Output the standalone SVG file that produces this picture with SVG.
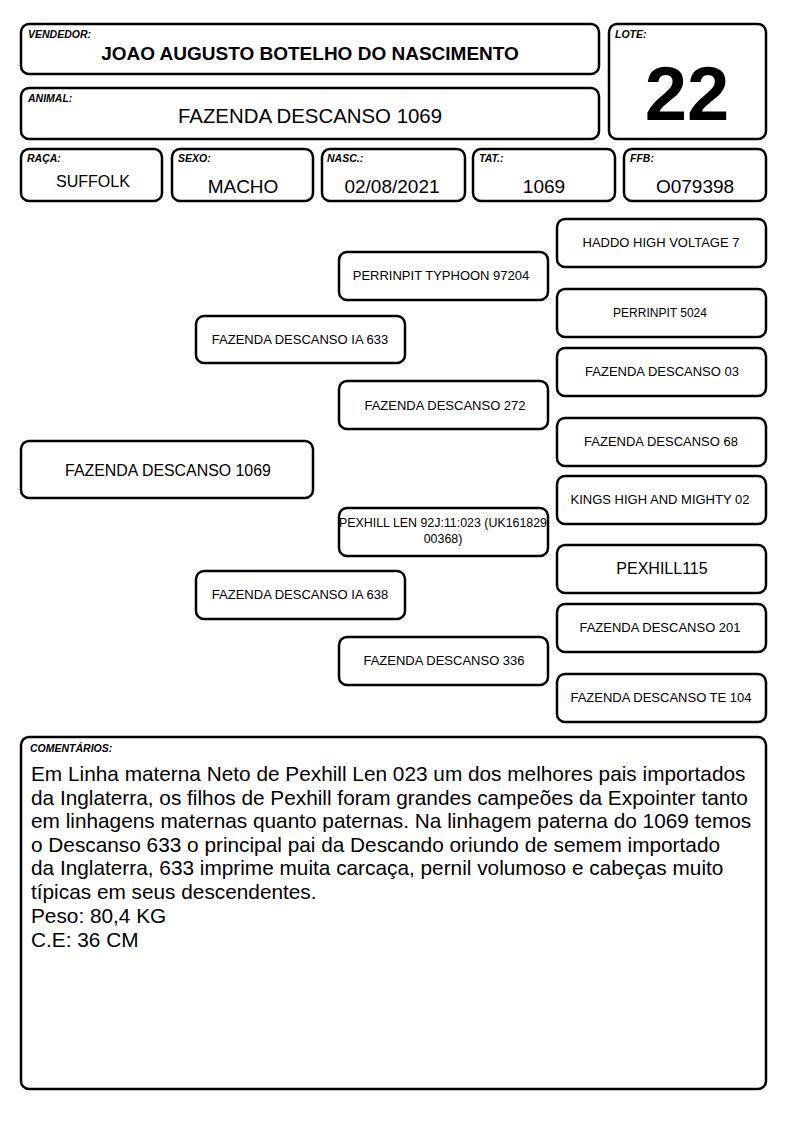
<svg xmlns="http://www.w3.org/2000/svg" width="794" height="1123" viewBox="0 0 794 1123">
<style>
.b{fill:#fff;stroke:#000;stroke-width:2.5}
.lbl{font-family:"Liberation Sans",Arial,sans-serif;font-size:10.5px;font-weight:bold;font-style:italic}
.v{font-family:"Liberation Sans",Arial,sans-serif;font-size:19px;text-anchor:middle}
.p{font-family:"Liberation Sans",Arial,sans-serif;font-size:13px;text-anchor:middle}
.c{font-family:"Liberation Sans",Arial,sans-serif;font-size:20.8px}
</style>
<rect width="794" height="1123" fill="#fff"/>
<g id="vendedor"><rect class="b" x="21" y="24" width="578" height="50" rx="8"/><text class="lbl" x="28" y="38">VENDEDOR:</text><text class="v" x="310" y="60" style="font-weight:bold">JOAO AUGUSTO BOTELHO DO NASCIMENTO</text></g>
<g id="lote"><rect class="b" x="609" y="24" width="157" height="115" rx="8"/><text class="lbl" x="615" y="38">LOTE:</text><text x="687" y="120" font-family="Liberation Sans,Arial,sans-serif" font-size="76" font-weight="bold" text-anchor="middle">22</text></g>
<g id="animal"><rect class="b" x="21" y="88" width="578" height="51" rx="8"/><text class="lbl" x="28" y="102">ANIMAL:</text><text class="v" x="310" y="123" style="font-size:20.4px">FAZENDA DESCANSO 1069</text></g>
<g id="raca"><rect class="b" x="21" y="149" width="141" height="52" rx="8"/><text class="lbl" x="27" y="162">RAÇA:</text><text class="v" x="93" y="187" style="font-size:16px">SUFFOLK</text></g>
<g id="sexo"><rect class="b" x="172" y="149" width="141" height="52" rx="8"/><text class="lbl" x="178" y="162">SEXO:</text><text class="v" x="243" y="193">MACHO</text></g>
<g id="nasc"><rect class="b" x="322" y="149" width="143" height="52" rx="8"/><text class="lbl" x="327" y="162">NASC.:</text><text class="v" x="392" y="193">02/08/2021</text></g>
<g id="tat"><rect class="b" x="473" y="149" width="142" height="52" rx="8"/><text class="lbl" x="479" y="162">TAT.:</text><text class="v" x="544" y="193">1069</text></g>
<g id="ffb"><rect class="b" x="624" y="149" width="142" height="52" rx="8"/><text class="lbl" x="630" y="162">FFB:</text><text class="v" x="695" y="193">O079398</text></g>
<g id="connectors"></g>
<g id="main"><rect class="b" x="21" y="441" width="292" height="57" rx="8"/><text class="p" x="168" y="476" style="font-size:15.9px">FAZENDA DESCANSO 1069</text></g>
<g id="sire"><rect class="b" x="196" y="316" width="209" height="47" rx="8"/><text class="p" x="300" y="344">FAZENDA DESCANSO IA 633</text></g>
<g id="dam"><rect class="b" x="196" y="571" width="209" height="48" rx="8"/><text class="p" x="300" y="599">FAZENDA DESCANSO IA 638</text></g>
<g id="ss"><rect class="b" x="339" y="252" width="209" height="48" rx="8"/><text class="p" x="441" y="280">PERRINPIT TYPHOON 97204</text></g>
<g id="sd"><rect class="b" x="339" y="381" width="209" height="48" rx="8"/><text class="p" x="445" y="410">FAZENDA DESCANSO 272</text></g>
<g id="ds"><rect class="b" x="339" y="508" width="209" height="48" rx="8"/><text class="p" x="443" y="527" style="font-size:12.4px">PEXHILL LEN 92J:11:023 (UK161829</text><text class="p" x="443" y="543" style="font-size:12.4px">00368)</text></g>
<g id="dd"><rect class="b" x="339" y="637" width="209" height="48" rx="8"/><text class="p" x="444" y="665">FAZENDA DESCANSO 336</text></g>
<g id="sss"><rect class="b" x="557" y="219" width="209" height="48" rx="8"/><text class="p" x="661" y="247">HADDO HIGH VOLTAGE 7</text></g>
<g id="ssd"><rect class="b" x="557" y="289" width="209" height="48" rx="8"/><text class="p" x="660" y="317" style="font-size:12px">PERRINPIT 5024</text></g>
<g id="sds"><rect class="b" x="557" y="348" width="209" height="48" rx="8"/><text class="p" x="662" y="376">FAZENDA DESCANSO 03</text></g>
<g id="sdd"><rect class="b" x="557" y="418" width="209" height="48" rx="8"/><text class="p" x="661" y="446">FAZENDA DESCANSO 68</text></g>
<g id="dss"><rect class="b" x="557" y="476" width="209" height="48" rx="8"/><text class="p" x="660" y="504">KINGS HIGH AND MIGHTY 02</text></g>
<g id="dsd"><rect class="b" x="557" y="545" width="209" height="48" rx="8"/><text class="p" x="662" y="574" style="font-size:16px">PEXHILL115</text></g>
<g id="dds"><rect class="b" x="557" y="604" width="209" height="48" rx="8"/><text class="p" x="660" y="632">FAZENDA DESCANSO 201</text></g>
<g id="ddd"><rect class="b" x="557" y="674" width="209" height="48" rx="8"/><text class="p" x="661" y="702">FAZENDA DESCANSO TE 104</text></g>
<g id="comentarios"><rect class="b" x="21" y="737" width="745" height="352" rx="8"/><text class="lbl" x="30" y="752">COMENTÁRIOS:</text>
<text class="c" x="31" y="781">Em Linha materna Neto de Pexhill Len 023 um dos melhores pais importados</text>
<text class="c" x="31" y="805">da Inglaterra, os filhos de Pexhill foram grandes campeões da Expointer tanto</text>
<text class="c" x="31" y="828">em linhagens maternas quanto paternas. Na linhagem paterna do 1069 temos</text>
<text class="c" x="31" y="852">o Descanso 633 o principal pai da Descando oriundo de semem importado</text>
<text class="c" x="31" y="875">da Inglaterra, 633 imprime muita carcaça, pernil volumoso e cabeças muito</text>
<text class="c" x="31" y="899">típicas em seus descendentes.</text>
<text class="c" x="31" y="923">Peso: 80,4 KG</text>
<text class="c" x="31" y="947">C.E: 36 CM</text>
</g>
</svg>
